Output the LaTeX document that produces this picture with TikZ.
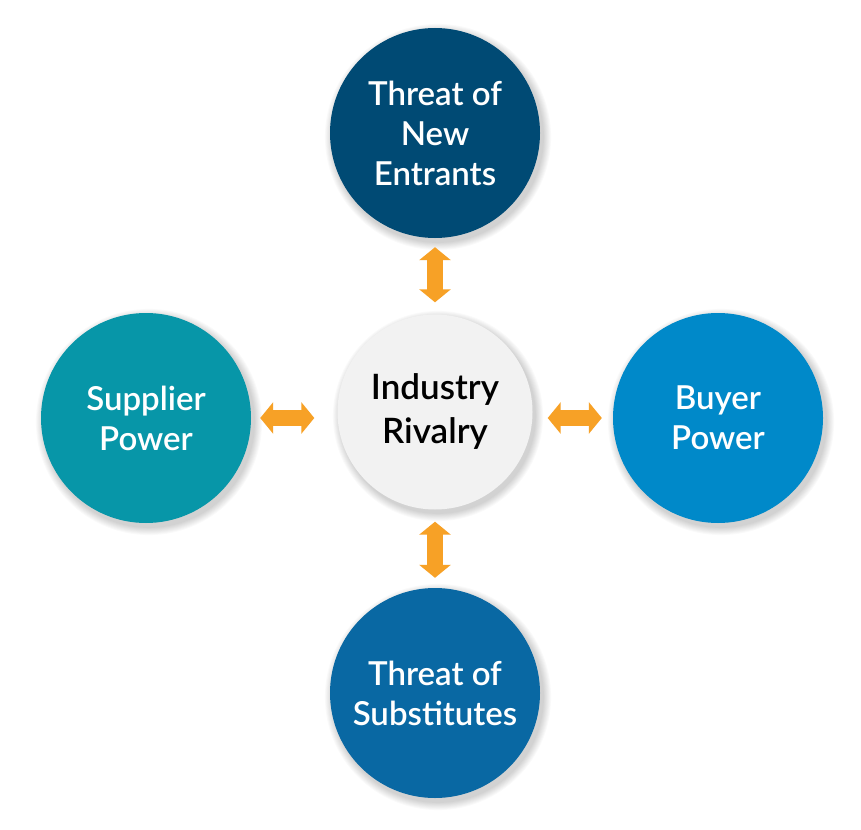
\documentclass[tikz,border=0pt]{standalone}
\usepackage{fontspec}
\IfFontExistsTF{Lato Semibold}{\setmainfont{Lato Semibold}}{\setmainfont{Lato}[UprightFont=* Bold]}
\usetikzlibrary{arrows.meta}
\definecolor{cTop}{HTML}{004A74}
\definecolor{cLeft}{HTML}{0796A8}
\definecolor{cRight}{HTML}{0089C9}
\definecolor{cBottom}{HTML}{0968A3}
\definecolor{cMid}{HTML}{F2F2F2}
\definecolor{cArrow}{HTML}{F7A126}
\tikzset{
  bubble/.style={circle, minimum size=210pt, inner sep=0pt, text=white, align=center,
    font=\fontsize{33}{40}\selectfont},
  midbubble/.style={circle, minimum size=195pt, inner sep=0pt, text=black, align=center,
    fill=cMid, font=\fontsize{35}{47}\selectfont},
  link/.style={draw=cArrow, line width=16pt,
    {Triangle[length=13pt,width=31pt]}-{Triangle[length=13pt,width=31pt]}},
  softshadow/.style={fill=black, opacity=0.018}
}
\begin{document}
\begin{tikzpicture}[x=1pt,y=-1pt]
\useasboundingbox (0,0) rectangle (861,829);
\fill[white] (0,0) rectangle (861,829);
% soft shadows
\foreach \cx/\cy/\r in {435/133/105, 146/418/105, 718/418/105, 435/693/105, 435/412/97}{
  \foreach \i in {1,...,9}{
    \fill[softshadow] (\cx+3,\cy+4) circle (\r+\i*0.9);
  }
}
\node[bubble, fill=cTop] (entrants) at (435,133) {Threat of\\New\\Entrants};
\node[bubble, fill=cLeft] (supplier) at (146,418) {Supplier\\Power};
\node[bubble, fill=cRight] (buyer) at (718,418) {Buyer\\Power};
\node[bubble, fill=cBottom] (subst) at (435,693) {Threat of\\Substitutes};
\node[midbubble] (rivalry) at (435,412) {\raisebox{-3pt}{Industry}\\Rivalry};
\draw[link, shorten <=9pt, shorten >=12pt] (entrants.south) -- (rivalry.north);
\draw[link, shorten <=12pt, shorten >=10pt] (rivalry.south) -- (subst.north);
\draw[link, shorten <=9pt, shorten >=23pt] (supplier.east) -- (rivalry.west |- supplier.east);
\draw[link, shorten <=15pt, shorten >=11pt] (rivalry.east |- buyer.west) -- (buyer.west);
\end{tikzpicture}
\end{document}
